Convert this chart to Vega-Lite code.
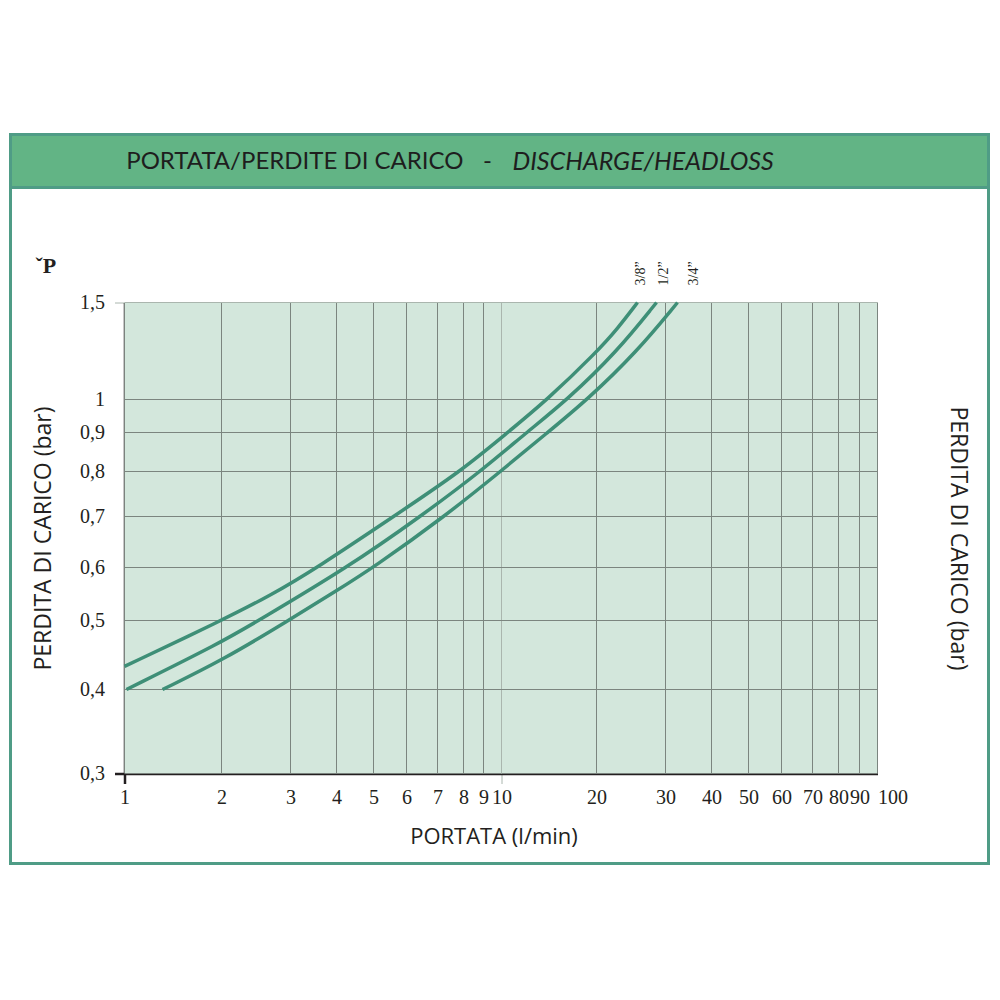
{
  "$schema": "https://vega.github.io/schema/vega-lite/v6.json",
  "background": "white",
  "padding": {"left": 8.5, "top": 132.5, "right": 5, "bottom": 5},
  "config": {"view": {"stroke": null}, "font": "Open Sans"},
  "bounds": "flush",
  "spacing": 0,
  "vconcat": [
    {
      "width": 978,
      "height": 53,
      "view": {"fill": "#62b485", "stroke": "#4f9c86", "strokeWidth": 3},
      "data": {"values": [{"it": "PORTATA/PERDITE DI CARICO", "sep": "-", "en": "DISCHARGE/HEADLOSS"}]},
      "layer": [
        {
          "mark": {"type": "text", "align": "right", "baseline": "middle", "dx": -36, "dy": 1, "font": "Lato", "fontSize": 24, "color": "#1e1e1e"},
          "encoding": {"text": {"field": "it"}}
        },
        {
          "mark": {"type": "text", "align": "center", "baseline": "middle", "dx": -12, "dy": 1, "font": "Lato", "fontSize": 24, "color": "#1e1e1e"},
          "encoding": {"text": {"field": "sep"}}
        },
        {
          "mark": {"type": "text", "align": "left", "baseline": "middle", "dx": 13, "dy": 1, "font": "Lato", "fontSize": 25, "fontStyle": "italic", "color": "#1e1e1e"},
          "encoding": {"text": {"field": "en"}}
        }
      ]
    },
    {
      "width": 978,
      "height": 676,
      "view": {"fill": "white", "stroke": "#4f9c86", "strokeWidth": 3},
      "resolve": {"axis": {"x": "independent", "y": "independent"}},
      "layer": [
        {
          "data": {"values": [{}]},
          "mark": {"type": "rect", "color": "#d3e7dc"},
          "encoding": {
            "x": {"datum": 1, "type": "quantitative", "scale": {"type": "log", "nice": false, "domain": [1,2,3,4,5,6,7,8,9,10,20,30,40,50,60,70,80,90,100], "range": [114,211,280,326,363,396,427,453,473,491,586,655,701,738,771,802,828,849,867]}, "axis": null},
            "x2": {"datum": 100},
            "y": {"datum": 0.3, "type": "quantitative", "scale": {"type": "log", "nice": false, "domain": [0.3,0.4,0.5,0.6,0.7,0.8,0.9,1,1.5], "range": [586,502,433,380,329,284,245,212,115]}, "axis": null},
            "y2": {"datum": 1.5}
          }
        },
        {
          "data": {"values": [{"q": 2},{"q": 3},{"q": 4},{"q": 5},{"q": 6},{"q": 7},{"q": 8},{"q": 9},{"q": 10},{"q": 20},{"q": 30},{"q": 40},{"q": 50},{"q": 60},{"q": 70},{"q": 80},{"q": 90},{"q": 100}]},
          "mark": {"type": "rule", "strokeWidth": 1},
          "encoding": {
            "x": {"field": "q", "type": "quantitative", "scale": {"type": "log", "nice": false, "domain": [1,2,3,4,5,6,7,8,9,10,20,30,40,50,60,70,80,90,100], "range": [114,211,280,326,363,396,427,453,473,491,586,655,701,738,771,802,828,849,867]}, "axis": null},
            "y": {"datum": 0.3, "type": "quantitative", "scale": {"type": "log", "nice": false, "domain": [0.3,0.4,0.5,0.6,0.7,0.8,0.9,1,1.5], "range": [586,502,433,380,329,284,245,212,115]}, "axis": null},
            "y2": {"datum": 1.5},
            "color": {"condition": {"test": "datum.q == 10", "value": "#aab6ae"}, "value": "#7b857f"}
          }
        },
        {
          "data": {"values": [{"dp": 0.4},{"dp": 0.5},{"dp": 0.6},{"dp": 0.7},{"dp": 0.8},{"dp": 0.9},{"dp": 1},{"dp": 1.5}]},
          "mark": {"type": "rule", "strokeWidth": 1},
          "encoding": {
            "y": {"field": "dp", "type": "quantitative", "scale": {"type": "log", "nice": false, "domain": [0.3,0.4,0.5,0.6,0.7,0.8,0.9,1,1.5], "range": [586,502,433,380,329,284,245,212,115]}, "axis": null},
            "x": {"datum": 1, "type": "quantitative", "scale": {"type": "log", "nice": false, "domain": [1,2,3,4,5,6,7,8,9,10,20,30,40,50,60,70,80,90,100], "range": [114,211,280,326,363,396,427,453,473,491,586,655,701,738,771,802,828,849,867]}, "axis": null},
            "x2": {"datum": 100},
            "color": {"condition": {"test": "datum.dp == 1.5", "value": "#aab6ae"}, "value": "#7b857f"}
          }
        },
        {
          "data": {"values": [
            {"size": "3/8", "q": 1.0, "dp": 0.431},
            {"size": "3/8", "q": 2.0, "dp": 0.5},
            {"size": "3/8", "q": 2.667, "dp": 0.545},
            {"size": "3/8", "q": 3.552, "dp": 0.6},
            {"size": "3/8", "q": 5.584, "dp": 0.7},
            {"size": "3/8", "q": 7.878, "dp": 0.8},
            {"size": "3/8", "q": 10.45, "dp": 0.9},
            {"size": "3/8", "q": 13.99, "dp": 1.0},
            {"size": "3/8", "q": 20.0, "dp": 1.219},
            {"size": "3/8", "q": 22.62, "dp": 1.344},
            {"size": "3/8", "q": 25.45, "dp": 1.5},
            {"size": "1/2", "q": 1.014, "dp": 0.4},
            {"size": "1/2", "q": 2.0, "dp": 0.466},
            {"size": "1/2", "q": 2.486, "dp": 0.5},
            {"size": "1/2", "q": 4.274, "dp": 0.6},
            {"size": "1/2", "q": 6.433, "dp": 0.7},
            {"size": "1/2", "q": 8.842, "dp": 0.8},
            {"size": "1/2", "q": 12.0, "dp": 0.9},
            {"size": "1/2", "q": 16.19, "dp": 1.0},
            {"size": "1/2", "q": 22.49, "dp": 1.219},
            {"size": "1/2", "q": 28.46, "dp": 1.5},
            {"size": "3/4", "q": 1.312, "dp": 0.4},
            {"size": "3/4", "q": 2.0, "dp": 0.439},
            {"size": "3/4", "q": 2.965, "dp": 0.5},
            {"size": "3/4", "q": 4.0, "dp": 0.554},
            {"size": "3/4", "q": 5.0, "dp": 0.6},
            {"size": "3/4", "q": 7.256, "dp": 0.7},
            {"size": "3/4", "q": 9.941, "dp": 0.8},
            {"size": "3/4", "q": 13.99, "dp": 0.9},
            {"size": "3/4", "q": 18.73, "dp": 1.0},
            {"size": "3/4", "q": 25.3, "dp": 1.219},
            {"size": "3/4", "q": 32.34, "dp": 1.5}
          ]},
          "mark": {"type": "line", "interpolate": "basis", "strokeWidth": 3.5, "color": "#3e8f77"},
          "encoding": {
            "x": {
              "field": "q", "type": "quantitative",
              "scale": {"type": "log", "nice": false, "domain": [1,2,3,4,5,6,7,8,9,10,20,30,40,50,60,70,80,90,100], "range": [114,211,280,326,363,396,427,453,473,491,586,655,701,738,771,802,828,849,867]},
              "axis": {
                "orient": "bottom",
                "offset": -90,
                "values": [1,2,3,4,5,6,7,8,9,10,20,30,40,50,60,70,80,90,100],
                "labelExpr": "format(datum.value, 'd')",
                "title": "PORTATA  (l/min)",
                "titleX": 483,
                "grid": false,
                "domainColor": "#231f20",
                "domainWidth": 2.5,
                "tickSize": 10,
                "tickColor": {"condition": [{"test": "datum.value == 1", "value": "#231f20"}, {"test": "datum.value == 10", "value": "#aab6ae"}], "value": "transparent"},
                "tickWidth": {"condition": {"test": "datum.value == 1", "value": 2.5}, "value": 1},
                "labelFont": "Liberation Serif",
                "labelFontSize": 20,
                "labelColor": "#231f20",
                "labelPadding": 4,
                "labelOverlap": false,
                "labelFlush": false,
                "labelAlign": {"condition": {"test": "datum.value == 100", "value": "left"}, "value": "center"},
                "titleFont": "Open Sans",
                "titleFontSize": 22,
                "titleFontWeight": "normal",
                "titleColor": "#231f20",
                "titlePadding": 19
              }
            },
            "y": {
              "field": "dp", "type": "quantitative",
              "scale": {"type": "log", "nice": false, "domain": [0.3,0.4,0.5,0.6,0.7,0.8,0.9,1,1.5], "range": [586,502,433,380,329,284,245,212,115]},
              "axis": {
                "orient": "left",
                "offset": -114,
                "values": [0.3,0.4,0.5,0.6,0.7,0.8,0.9,1,1.5],
                "labelExpr": "replace(format(datum.value, '.1~f'), '.', ',')",
                "title": "PERDITA DI CARICO  (bar)",
                "grid": false,
                "domainColor": "#231f20",
                "domainWidth": 2.5,
                "tickSize": 10,
                "tickColor": {"condition": [{"test": "datum.value == 0.3", "value": "#231f20"}, {"test": "datum.value == 1.5", "value": "#aab6ae"}], "value": "transparent"},
                "tickWidth": {"condition": {"test": "datum.value == 0.3", "value": 2.5}, "value": 1},
                "labelFont": "Liberation Serif",
                "labelFontSize": 20,
                "labelColor": "#231f20",
                "labelPadding": 10,
                "labelOverlap": false,
                "labelFlush": false,
                "titleFont": "Open Sans",
                "titleFontSize": 23,
                "titleFontWeight": "normal",
                "titleColor": "#231f20",
                "titlePadding": 24
              }
            },
            "detail": {"field": "size"}
          }
        },
        {
          "data": {"values": [
            {"lab": "3/8”", "q": 26.67, "dp": 1.5},
            {"lab": "1/2”", "q": 30.38, "dp": 1.5},
            {"lab": "3/4”", "q": 36.65, "dp": 1.5}
          ]},
          "mark": {"type": "text", "angle": 270, "align": "left", "baseline": "alphabetic", "dx": 17, "font": "Liberation Serif", "fontSize": 14, "color": "#231f20"},
          "encoding": {
            "x": {"field": "q", "type": "quantitative", "scale": {"type": "log", "nice": false, "domain": [1,2,3,4,5,6,7,8,9,10,20,30,40,50,60,70,80,90,100], "range": [114,211,280,326,363,396,427,453,473,491,586,655,701,738,771,802,828,849,867]}, "axis": null},
            "y": {"field": "dp", "type": "quantitative", "scale": {"type": "log", "nice": false, "domain": [0.3,0.4,0.5,0.6,0.7,0.8,0.9,1,1.5], "range": [586,502,433,380,329,284,245,212,115]}, "axis": null},
            "text": {"field": "lab"}
          }
        },
        {
          "data": {"values": [{"sym": "ˇP", "q": 1, "dp": 1.5}]},
          "mark": {"type": "text", "align": "left", "baseline": "alphabetic", "dx": -89, "dy": -30, "font": "Liberation Serif", "fontSize": 22, "fontWeight": "bold", "color": "#231f20"},
          "encoding": {
            "x": {"field": "q", "type": "quantitative", "scale": {"type": "log", "nice": false, "domain": [1,2,3,4,5,6,7,8,9,10,20,30,40,50,60,70,80,90,100], "range": [114,211,280,326,363,396,427,453,473,491,586,655,701,738,771,802,828,849,867]}, "axis": null},
            "y": {
              "field": "dp", "type": "quantitative",
              "scale": {"type": "log", "nice": false, "domain": [0.3,0.4,0.5,0.6,0.7,0.8,0.9,1,1.5], "range": [586,502,433,380,329,284,245,212,115]},
              "axis": {
                "orient": "right",
                "offset": -111,
                "title": "PERDITA DI CARICO  (bar)",
                "labels": false,
                "ticks": false,
                "domain": false,
                "grid": false,
                "titleFont": "Open Sans",
                "titleFontSize": 23,
                "titleFontWeight": "normal",
                "titleColor": "#231f20",
                "titlePadding": 68
              }
            },
            "text": {"field": "sym"}
          }
        }
      ]
    }
  ]
}
